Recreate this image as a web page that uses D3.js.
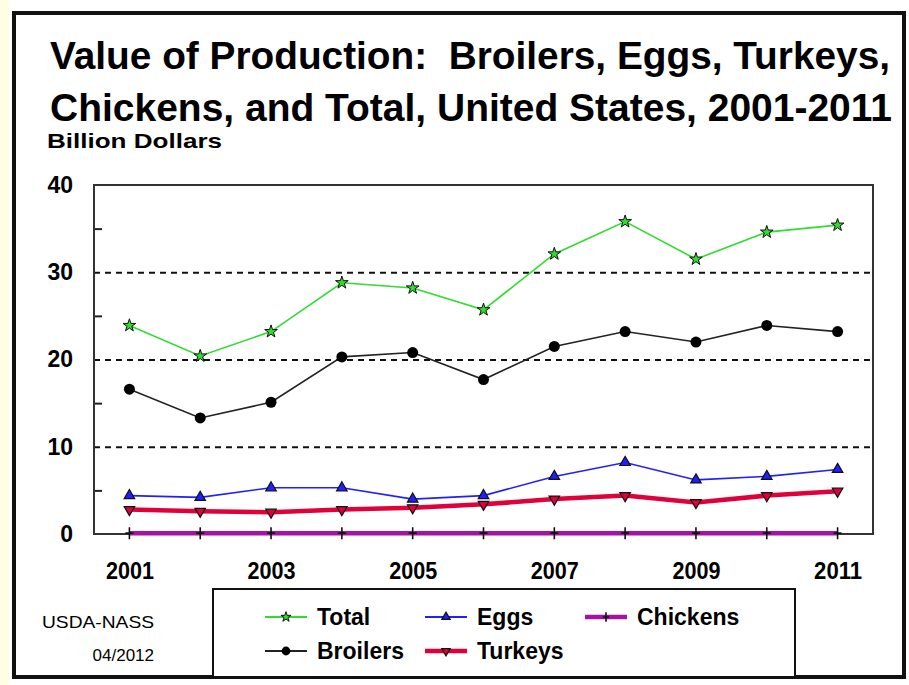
<!DOCTYPE html>
<html>
<head>
<meta charset="utf-8">
<script src="https://cdn.jsdelivr.net/npm/d3@7/dist/d3.min.js"></script>
<style>
  html, body { margin: 0; padding: 0; background: #fff; }
  svg { display: block; font-family: "Liberation Sans", Arial, sans-serif; }
  .title { white-space: pre; }
</style>
</head>
<body>
<svg id="chart" width="909" height="685"></svg>
<script>
// Value of production, billion dollars, 2001-2011
const years = [2001, 2002, 2003, 2004, 2005, 2006, 2007, 2008, 2009, 2010, 2011];
const total    = [23.9, 20.4, 23.2, 28.8, 28.2, 25.7, 32.1, 35.8, 31.5, 34.6, 35.4];
const broilers = [16.6, 13.3, 15.1, 20.3, 20.8, 17.7, 21.5, 23.2, 22.0, 23.9, 23.2];
const eggs     = [4.4, 4.2, 5.3, 5.3, 4.0, 4.4, 6.6, 8.2, 6.2, 6.6, 7.4];
const turkeys  = [2.8, 2.6, 2.5, 2.8, 3.0, 3.4, 4.0, 4.4, 3.6, 4.4, 4.9];
const chickens = [0.1, 0.1, 0.1, 0.1, 0.1, 0.1, 0.1, 0.1, 0.1, 0.1, 0.1];
const yTicks = [0, 10, 20, 30, 40];
const yMinorTicks = [5, 15, 25, 35];
const xTickYears = [2001, 2003, 2005, 2007, 2009, 2011];

const svg = d3.select("#chart");

// page edge strip and outer frame
svg.append("rect").attr("x", 0).attr("y", 0).attr("width", 9).attr("height", 685).attr("fill", "#fffde2");
svg.append("rect").attr("x", 14).attr("y", 13).attr("width", 890).attr("height", 664)
  .attr("fill", "#fff").attr("stroke", "#111").attr("stroke-width", 4);

// titles
svg.append("text").attr("class", "title").attr("x", 50).attr("y", 69).attr("font-size", 39).attr("font-weight", "bold")
  .attr("textLength", 840).attr("lengthAdjust", "spacingAndGlyphs")
  .text("Value of Production:  Broilers, Eggs, Turkeys,");
svg.append("text").attr("class", "title").attr("x", 50).attr("y", 121).attr("font-size", 39).attr("font-weight", "bold")
  .attr("textLength", 842).attr("lengthAdjust", "spacingAndGlyphs")
  .text("Chickens, and Total, United States, 2001-2011");
svg.append("text").attr("x", 47).attr("y", 148).attr("font-size", 21).attr("font-weight", "bold")
  .attr("textLength", 175).attr("lengthAdjust", "spacingAndGlyphs")
  .text("Billion Dollars");

// plot area
const plotLeft = 94, plotRight = 873, plotTop = 185, plotBottom = 534;
const x = d3.scalePoint().domain(years).range([plotLeft, plotRight]).padding(0.5);
const y = d3.scaleLinear().domain([0, 40]).range([plotBottom, plotTop]);

// dashed gridlines
svg.append("g").attr("transform", `translate(${plotLeft},0)`)
  .call(d3.axisLeft(y).tickValues([10, 20, 30]).tickSize(-(plotRight - plotLeft)).tickFormat(""))
  .call(g => g.select(".domain").remove())
  .call(g => g.selectAll("line").attr("stroke", "#111").attr("stroke-width", 2).attr("stroke-dasharray", "6,5"));

// minor ticks on the inside of the left axis
svg.append("g").attr("transform", `translate(${plotLeft},0)`)
  .call(d3.axisRight(y).tickValues(yMinorTicks).tickSize(8).tickFormat(""))
  .call(g => g.select(".domain").remove())
  .call(g => g.selectAll("line").attr("stroke", "#222").attr("stroke-width", 2));

// y labels
svg.append("g").attr("transform", `translate(${plotLeft},0)`)
  .call(d3.axisLeft(y).tickValues(yTicks).tickSize(0).tickPadding(21).tickFormat(d3.format("d")))
  .call(g => g.select(".domain").remove())
  .call(g => g.selectAll("text").attr("font-size", 23).attr("font-weight", "bold")
    .attr("fill", "#000").attr("font-family", "Liberation Sans, Arial, sans-serif"));

// x labels
svg.append("g").attr("transform", `translate(0,${plotBottom})`)
  .call(d3.axisBottom(x).tickValues(xTickYears).tickSize(0).tickPadding(29))
  .call(g => g.select(".domain").remove())
  .call(g => g.selectAll("text").attr("font-size", 23).attr("font-weight", "bold")
    .attr("fill", "#000").attr("font-family", "Liberation Sans, Arial, sans-serif")
    .attr("textLength", 48).attr("lengthAdjust", "spacingAndGlyphs"));

// plot box
svg.append("rect").attr("x", plotLeft).attr("y", plotTop).attr("width", plotRight - plotLeft).attr("height", plotBottom - plotTop)
  .attr("fill", "none").attr("stroke", "#333").attr("stroke-width", 2);

// series
const series = [
  { name: "Chickens", values: chickens, color: "#a414a4", width: 4.5, marker: "cross" },
  { name: "Turkeys",  values: turkeys,  color: "#e0003a", width: 4.5, marker: "down" },
  { name: "Eggs",     values: eggs,     color: "#1f1fff", width: 1.6, marker: "up" },
  { name: "Broilers", values: broilers, color: "#222222", width: 1.6, marker: "circle" },
  { name: "Total",    values: total,    color: "#2fdc2f", width: 1.6, marker: "star" }
];

const line = d3.line().x(d => x(d.year)).y(d => y(d.value));

function drawMarker(g, kind, color, scale) {
  const s = scale || 1;
  if (kind === "star") {
    g.append("path").attr("d", d3.symbol(d3.symbolStar, 50 * s * s)())
      .attr("fill", color).attr("stroke", "#111").attr("stroke-width", 1);
  } else if (kind === "circle") {
    g.append("circle").attr("r", 5.5 * s).attr("fill", "#000");
  } else if (kind === "up") {
    g.append("path").attr("d", d3.symbol(d3.symbolTriangle, 48 * s * s)())
      .attr("fill", color).attr("stroke", "#111").attr("stroke-width", 1.2);
  } else if (kind === "down") {
    g.append("path").attr("d", d3.symbol(d3.symbolTriangle, 48 * s * s)())
      .attr("transform", "rotate(180)")
      .attr("fill", color).attr("stroke", "#111").attr("stroke-width", 1.2);
  } else if (kind === "cross") {
    g.append("path").attr("d", `M0,${-6 * s}V${6 * s}M${-4 * s},0H${4 * s}`)
      .attr("stroke", "#111").attr("stroke-width", 1.6).attr("fill", "none");
  }
}

series.forEach(s => {
  const pts = years.map((yr, i) => ({ year: yr, value: s.values[i] }));
  svg.append("path").datum(pts).attr("d", line)
    .attr("fill", "none").attr("stroke", s.color).attr("stroke-width", s.width);
  pts.forEach(p => {
    const g = svg.append("g").attr("transform", `translate(${x(p.year)},${y(p.value)})`);
    drawMarker(g, s.marker, s.color);
  });
});

// legend
svg.append("rect").attr("x", 213).attr("y", 589).attr("width", 582).attr("height", 88)
  .attr("fill", "#fff").attr("stroke", "#111").attr("stroke-width", 2);

const legendItems = [
  { name: "Total",    color: "#2fdc2f", width: 2,   marker: "star",   col: 0, row: 0 },
  { name: "Eggs",     color: "#1f1fff", width: 2,   marker: "up",     col: 1, row: 0 },
  { name: "Chickens", color: "#a414a4", width: 4.5, marker: "cross",  col: 2, row: 0 },
  { name: "Broilers", color: "#222222", width: 2,   marker: "circle", col: 0, row: 1 },
  { name: "Turkeys",  color: "#e0003a", width: 4.5, marker: "down",   col: 1, row: 1 }
];
const colX = [265, 425, 585];
const rowY = [617, 651];
legendItems.forEach(it => {
  const lx = colX[it.col], ly = rowY[it.row];
  svg.append("line").attr("x1", lx).attr("x2", lx + 42).attr("y1", ly).attr("y2", ly)
    .attr("stroke", it.color).attr("stroke-width", it.width);
  const g = svg.append("g").attr("transform", `translate(${lx + 21},${ly})`);
  drawMarker(g, it.marker, it.color, 0.8);
  svg.append("text").attr("x", lx + 52).attr("y", ly + 8).attr("font-size", 23)
    .attr("font-weight", "bold").text(it.name);
});

// source note
svg.append("text").attr("x", 154).attr("y", 628).attr("text-anchor", "end").attr("font-size", 17)
  .attr("textLength", 112).attr("lengthAdjust", "spacingAndGlyphs").text("USDA-NASS");
svg.append("text").attr("x", 154).attr("y", 661).attr("text-anchor", "end").attr("font-size", 17)
  .text("04/2012");
</script>
</body>
</html>
